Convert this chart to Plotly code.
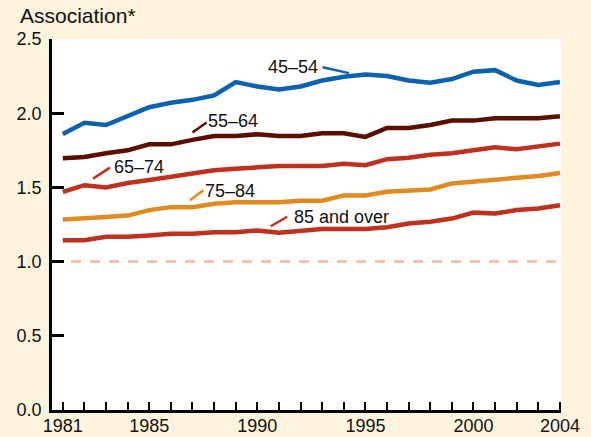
import plotly.graph_objects as go

years = list(range(1981, 2005))
age_45_54 = [1.86, 1.935, 1.92, 1.98, 2.04, 2.07, 2.09, 2.12, 2.21, 2.18, 2.16, 2.18,
             2.22, 2.245, 2.26, 2.25, 2.22, 2.205, 2.23, 2.28, 2.29, 2.22, 2.19, 2.21]
age_55_64 = [1.696, 1.705, 1.73, 1.75, 1.79, 1.79, 1.82, 1.846, 1.846, 1.858, 1.846, 1.846,
             1.865, 1.865, 1.84, 1.90, 1.90, 1.92, 1.95, 1.95, 1.966, 1.966, 1.966, 1.98]
age_65_74 = [1.47, 1.515, 1.50, 1.53, 1.55, 1.57, 1.595, 1.615, 1.626, 1.635, 1.644, 1.644,
             1.644, 1.66, 1.65, 1.69, 1.70, 1.72, 1.73, 1.75, 1.77, 1.757, 1.777, 1.795]
age_75_84 = [1.284, 1.29, 1.30, 1.31, 1.347, 1.367, 1.367, 1.39, 1.40, 1.40, 1.40, 1.41,
             1.41, 1.446, 1.446, 1.47, 1.48, 1.486, 1.527, 1.538, 1.55, 1.559, 1.577, 1.597]
age_85_over = [1.144, 1.144, 1.167, 1.167, 1.176, 1.187, 1.187, 1.198, 1.198, 1.21, 1.194, 1.21,
               1.22, 1.22, 1.22, 1.232, 1.257, 1.268, 1.29, 1.33, 1.324, 1.347, 1.358, 1.38]
reference_value = 1.0

x_tick_labels = {1981: "1981", 1985: "1985", 1990: "1990", 1995: "1995", 2000: "2000", 2004: "2004"}
y_ticks = [0.0, 0.5, 1.0, 1.5, 2.0, 2.5]

series = [
    ("45–54", age_45_54, "#0a62b0", (1991.65, 2.31), ((1993.02, 2.309), (1994.24, 2.27))),
    ("55–64", age_55_64, "#5c0e00", (1988.87, 1.95), ((1987.0, 1.87), (1987.65, 1.937))),
    ("65–74", age_65_74, "#c0301c", (1984.54, 1.637), ((1982.4, 1.559), (1983.18, 1.633))),
    ("75–84", age_75_84, "#e08a20", (1988.73, 1.475), ((1986.88, 1.414), (1987.5, 1.48))),
    ("85 and over", age_85_over, "#c0301c", (1993.91, 1.302), ((1990.62, 1.238), (1991.38, 1.302))),
]

BG = "#fef3dc"
fig = go.Figure()

fig.add_trace(go.Scatter(x=[1980.5, 2004.05], y=[reference_value, reference_value], mode="lines",
                         line=dict(color="#f8b8a0", width=2.5, dash="10px,9px"),
                         hoverinfo="skip", showlegend=False))

annotations = []
shapes = []
for name, vals, color, text_pos, leader in series:
    fig.add_trace(go.Scatter(x=years, y=vals, mode="lines", name=name,
                             line=dict(color=color, width=4.5), showlegend=False))
    annotations.append(dict(x=text_pos[0], y=text_pos[1], xref="x", yref="y", text=name,
                            showarrow=False, font=dict(size=18, color="#111111")))
    shapes.append(dict(type="line", xref="x", yref="y",
                       x0=leader[0][0], y0=leader[0][1], x1=leader[1][0], y1=leader[1][1],
                       line=dict(color=color, width=2.5)))

# y-axis title placed at top-left (pixel 18, 16)
annotations.append(dict(x=(18 - 52) / 509, y=1 + (39 - 16) / 371, xref="paper", yref="paper",
                        text="Association*", showarrow=False, xanchor="left", yanchor="middle",
                        font=dict(size=21, color="#111111")))

fig.update_layout(
    width=591, height=437,
    margin=dict(l=52, r=30, t=39, b=27, autoexpand=False),
    paper_bgcolor=BG, plot_bgcolor="#ffffff",
    font=dict(family="Liberation Sans, Arial, sans-serif", color="#111111"),
    annotations=annotations, shapes=shapes,
)

fig.update_xaxes(range=[1980.5, 2004.05], tickvals=years,
                 ticktext=[x_tick_labels.get(y, "") for y in years],
                 ticks="inside", ticklen=8, tickwidth=2, tickcolor="black",
                 showline=True, linecolor="black", linewidth=2.5, showgrid=False, zeroline=False,
                 tickfont=dict(size=18), ticklabelstandoff=-2, automargin=False)
fig.update_yaxes(range=[0, 2.5], tickvals=y_ticks, ticktext=[f"{v:.1f}" for v in y_ticks],
                 ticks="inside", ticklen=12, tickwidth=2.5, tickcolor="black",
                 showline=True, linecolor="black", linewidth=2.5, showgrid=False, zeroline=False,
                 tickfont=dict(size=18), ticklabelstandoff=4, automargin=False)

fig.write_html("out.html", config={"displayModeBar": False},
               post_script="document.body.style.margin='0';document.body.style.background='" + BG + "';")
